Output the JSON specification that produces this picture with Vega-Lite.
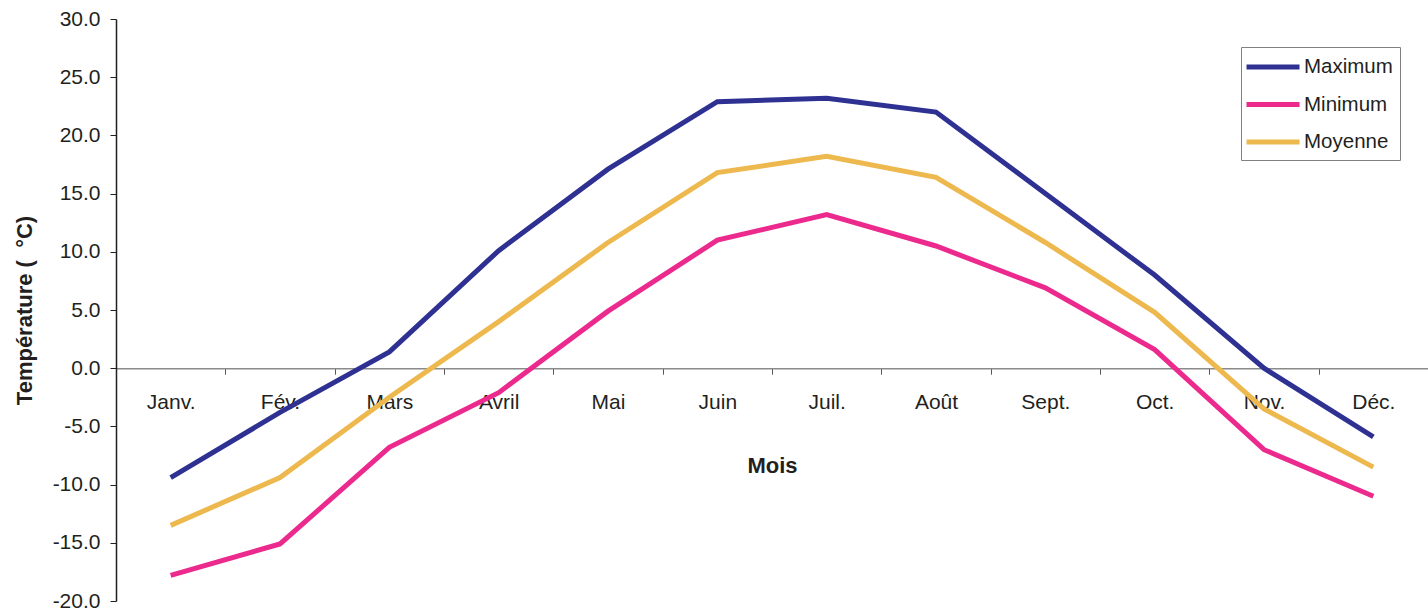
{
  "$schema": "https://vega.github.io/schema/vega-lite/v6.json",
  "width": 1312,
  "height": 582,
  "autosize": {"type": "none"},
  "padding": {"left": 116, "top": 19, "right": 0, "bottom": 13},
  "background": "white",
  "config": {
    "view": {"stroke": null},
    "font": "Liberation Sans"
  },
  "data": {
    "values": [
      {"mois": "Janv.", "serie": "Maximum", "temp": -9.4},
      {"mois": "Fév.", "serie": "Maximum", "temp": -3.8},
      {"mois": "Mars", "serie": "Maximum", "temp": 1.4},
      {"mois": "Avril", "serie": "Maximum", "temp": 10.1},
      {"mois": "Mai", "serie": "Maximum", "temp": 17.1},
      {"mois": "Juin", "serie": "Maximum", "temp": 22.9},
      {"mois": "Juil.", "serie": "Maximum", "temp": 23.2},
      {"mois": "Août", "serie": "Maximum", "temp": 22.0},
      {"mois": "Sept.", "serie": "Maximum", "temp": 15.0},
      {"mois": "Oct.", "serie": "Maximum", "temp": 8.0},
      {"mois": "Nov.", "serie": "Maximum", "temp": 0.0},
      {"mois": "Déc.", "serie": "Maximum", "temp": -5.9},
      {"mois": "Janv.", "serie": "Minimum", "temp": -17.8},
      {"mois": "Fév.", "serie": "Minimum", "temp": -15.1},
      {"mois": "Mars", "serie": "Minimum", "temp": -6.8},
      {"mois": "Avril", "serie": "Minimum", "temp": -2.1},
      {"mois": "Mai", "serie": "Minimum", "temp": 4.9},
      {"mois": "Juin", "serie": "Minimum", "temp": 11.0},
      {"mois": "Juil.", "serie": "Minimum", "temp": 13.2},
      {"mois": "Août", "serie": "Minimum", "temp": 10.5},
      {"mois": "Sept.", "serie": "Minimum", "temp": 6.9},
      {"mois": "Oct.", "serie": "Minimum", "temp": 1.6},
      {"mois": "Nov.", "serie": "Minimum", "temp": -7.0},
      {"mois": "Déc.", "serie": "Minimum", "temp": -11.0},
      {"mois": "Janv.", "serie": "Moyenne", "temp": -13.5},
      {"mois": "Fév.", "serie": "Moyenne", "temp": -9.4},
      {"mois": "Mars", "serie": "Moyenne", "temp": -2.5},
      {"mois": "Avril", "serie": "Moyenne", "temp": 4.0},
      {"mois": "Mai", "serie": "Moyenne", "temp": 10.8},
      {"mois": "Juin", "serie": "Moyenne", "temp": 16.8},
      {"mois": "Juil.", "serie": "Moyenne", "temp": 18.2},
      {"mois": "Août", "serie": "Moyenne", "temp": 16.4},
      {"mois": "Sept.", "serie": "Moyenne", "temp": 10.8},
      {"mois": "Oct.", "serie": "Moyenne", "temp": 4.8},
      {"mois": "Nov.", "serie": "Moyenne", "temp": -3.5},
      {"mois": "Déc.", "serie": "Moyenne", "temp": -8.5}
    ]
  },
  "mark": {"type": "line", "strokeWidth": 5, "strokeCap": "butt", "strokeJoin": "miter"},
  "encoding": {
    "x": {
      "field": "mois",
      "type": "nominal",
      "sort": ["Janv.", "Fév.", "Mars", "Avril", "Mai", "Juin", "Juil.", "Août", "Sept.", "Oct.", "Nov.", "Déc."],
      "scale": {"type": "band", "paddingInner": 0, "paddingOuter": 0},
      "axis": {
        "title": "Mois",
        "orient": "bottom",
        "offset": -232.8,
        "tickBand": "extent",
        "labelAngle": 0,
        "grid": false,
        "domainColor": "#8a8a8a",
        "domainWidth": 1.5,
        "tickColor": "#555555",
        "tickSize": 6,
        "labelFontSize": 21,
        "labelPadding": 17,
        "labelColor": "#231f20",
        "titleFontSize": 22,
        "titleFontWeight": "bold",
        "titleColor": "#231f20",
        "titlePadding": 43
      }
    },
    "y": {
      "field": "temp",
      "type": "quantitative",
      "scale": {"domain": [-20, 30], "nice": false, "zero": false},
      "axis": {
        "values": [-20, -15, -10, -5, 0, 5, 10, 15, 20, 25, 30],
        "labelExpr": "replace(format(datum.value, '.1f'), '\u2212', '-')",
        "title": "Température ( \u00a0°C)",
        "grid": false,
        "domainColor": "#231f20",
        "domainWidth": 1.5,
        "tickColor": "#231f20",
        "tickSize": 6,
        "labelPadding": 10,
        "labelFontSize": 21,
        "labelColor": "#231f20",
        "titleFontSize": 22,
        "titleFontWeight": "bold",
        "titleColor": "#231f20",
        "titlePadding": 16
      }
    },
    "color": {
      "field": "serie",
      "type": "nominal",
      "scale": {
        "domain": ["Maximum", "Minimum", "Moyenne"],
        "range": ["#2E3192", "#EC2A8E", "#EDB84E"]
      },
      "legend": {
        "title": null,
        "orient": "none",
        "legendX": 1125,
        "legendY": 28,
        "symbolType": "M-1.38,0H3.67",
        "symbolSize": 441,
        "symbolStrokeWidth": 5,
        "labelFontSize": 20.5,
        "labelColor": "#231f20",
        "labelOffset": 30,
        "strokeColor": "#808080",
        "fillColor": "white",
        "padding": 7,
        "rowPadding": 13.5
      }
    }
  }
}
